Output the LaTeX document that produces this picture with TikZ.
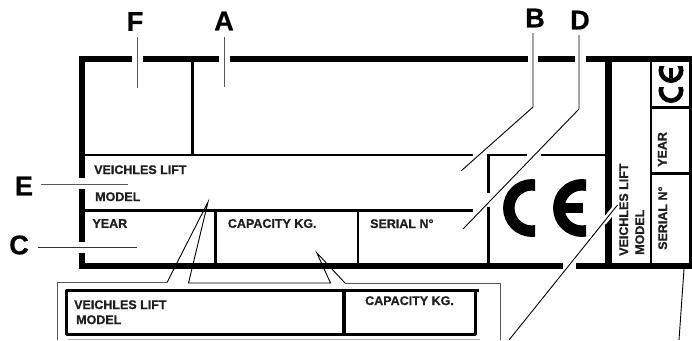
\documentclass[tikz,border=0pt]{standalone}
\usetikzlibrary{calc}
\usepackage{fontspec}
\setmainfont{Liberation Sans}[BoldFeatures={FakeBold=0.7}]
\definecolor{framegray}{HTML}{5A5A5A}
\tikzset{
  thick rule/.style={line width=6.5pt},
  thin rule/.style={line width=2.6pt},
  mid rule/.style={line width=3.2pt},
  leader/.style={line width=0.9pt,line join=miter},
  glabel/.style={line width=1pt,color=framegray},
  gframe/.style={line width=1pt,color=framegray,line join=miter},
  plate/.style={font=\fontsize{12.5}{12.5}\selectfont\bfseries,inner sep=0pt,anchor=base west,text=black!88},
  big/.style={font=\fontsize{27}{27}\selectfont\bfseries,inner sep=0pt,anchor=center},
}
\begin{document}
\begin{tikzpicture}[x=1pt,y=-1pt]
\useasboundingbox (0,0) rectangle (692,340);
% outer frame
\draw[thick rule,line cap=butt] (132,59) -- (82,59) -- (82,178);
\draw[thick rule] (143,59) -- (219,59);
\draw[thick rule] (230,59) -- (528,59);
\draw[thick rule] (538,59) -- (575,59);
\draw[thick rule] (586,59) -- (692,59);
\draw[thick rule] (82,189) -- (82,242);
\draw[thick rule] (82,253) -- (82,266) -- (563,266);
\draw[thick rule] (576,266) -- (692,266);
\draw[thick rule] (608.5,59) -- (608.5,266);
% inner rules
\draw[thin rule] (192.7,59) -- (192.7,155);
\draw[thin rule] (82,155) -- (473,155);
\draw[thin rule] (488.7,193) -- (488.7,155) -- (527,155);
\draw[thin rule] (541,155) -- (608,155);
\draw[thin rule] (488.7,207) -- (488.7,266);
\draw[thin rule] (82,210.5) -- (473,210.5);
\draw[mid rule] (215.7,210) -- (215.7,266);
\draw[thin rule] (358,210) -- (358,266);
\draw[thin rule] (651,59) -- (651,266);
\draw[thin rule] (690.4,59) -- (690.4,266);
\draw[thin rule] (651,107.3) -- (690,107.3);
\draw[thin rule] (651,173.5) -- (690,173.5);
% large CE
\begin{scope}
\clip (495,170) rectangle (535,245);
\coordinate (cc) at (532,208);
\draw[line width=11.5pt] (cc) circle[radius=23.2pt];
\end{scope}
\begin{scope}
\clip (545,170) rectangle (586,245);
\coordinate (ce) at (582,208);
\draw[line width=11.5pt] (ce) circle[radius=23.2pt];
\end{scope}
\fill (560,203) rectangle (583,212.5);
% small CE
\begin{scope}
\clip (650,87) rectangle (690,106);
\coordinate (sc) at (671,90.5);
\draw[line width=4.6pt] (sc) circle[radius=10.2pt];
\end{scope}
\begin{scope}
\clip (650,66.7) rectangle (690,86);
\coordinate (se) at (671,70.5);
\draw[line width=4.6pt] (se) circle[radius=10.2pt];
\end{scope}
\fill (669.3,68) rectangle (672.8,78);
% plate text
\node[plate] (t1) at (94,174) {VEICHLES LIFT};
\node[plate] (t2) at (95,201) {MODEL};
\node[plate] (t3) at (92.3,227.8) {YEAR};
\node[plate] (t4) at (227.7,227.8) {CAPACITY KG.};
\node[plate] (t5) at (370,228) {SERIAL N°};
\node[plate,rotate=90] (t6) at (628,256) {VEICHLES LIFT};
\node[plate,rotate=90] (t7) at (644,255) {MODEL};
\node[plate,rotate=90] (t8) at (666.5,167) {YEAR};
\node[plate,rotate=90] (t9) at (667,250) {SERIAL N°};
% leaders
\coordinate (vend) at (617.5,205);
\coordinate (vfoot) at (509,340);
\draw[white,line width=6pt] (vend) -- ($(vend)!0.13!(vfoot)$);
\draw[leader] (vend) -- (vfoot);
\draw[glabel] (137,37) -- (137,88);
\draw[glabel] (224,37) -- (224,87);
\draw[leader] (533,33) -- (533,107) -- (461,171);
\draw[leader] (579,35) -- (579,109) -- (463,229);
\draw[glabel] (41,184) -- (128,184);
\draw[leader,color=black!80] (38,247) -- (137,247);
\draw[leader] (684,269) -- (679,340);
% big letters
\node[big] (lF) at (135,21.5) {F};
\node[big] (lA) at (224,21) {A};
\node[big] (lB) at (535,18) {B};
\node[big] (lD) at (580,20) {D};
\node[big] (lE) at (24,186) {E};
\node[big] (lC) at (19,245) {C};
% inset frame and callouts
\draw[gframe] (57.5,340) -- (57.5,282.5) -- (167,282.5);
\draw[leader] (167,282.5) -- (208,202) -- (188.5,283) -- (330.5,283) -- (316.7,252.7) -- (345,283);
\draw[gframe] (345,283) -- (500,283) -- (500,340);
\draw[line width=3pt,line join=round] (479,290) -- (66.7,290) -- (66.7,334.5) -- (475,334.5) -- (475,290);
\draw[mid rule] (344,290) -- (344,334.5);
\draw[line width=1pt,color=black!30] (68,339) -- (480,339);
\node[plate] (i1) at (74,309) {VEICHLES LIFT};
\node[plate] (i2) at (76,324) {MODEL};
\node[plate] (i3) at (365,305) {CAPACITY KG.};
\end{tikzpicture}
\end{document}
